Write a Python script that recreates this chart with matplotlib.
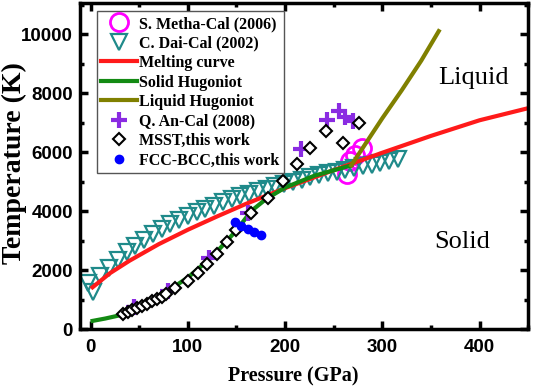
"""Temperature vs pressure: melting curve, Hugoniots and calculated points."""

import matplotlib
matplotlib.use('Agg')
import matplotlib.pyplot as plt
from matplotlib.ticker import MultipleLocator

# melting curve
melt_p = [2, 20, 40, 70, 100, 130, 160, 200, 250, 300, 350, 400, 450]
melt_t = [1420, 1900, 2320, 2880, 3370, 3820, 4250, 4780, 5390, 5980,
          6550, 7080, 7490]

# solid and liquid Hugoniot
solid_p = [2, 15, 30, 50, 75, 100, 125, 150, 165, 180, 200, 230, 268]
solid_t = [280, 360, 470, 750, 1200, 1750, 2450, 3350, 4000, 4400, 4800,
           5200, 5550]
liquid_p = [268, 285, 300, 320, 340, 358]
liquid_t = [5550, 6400, 7150, 8100, 9100, 10100]

# C. Dai-Cal (2002)
dai_p = [-3, 2, 10, 19, 28, 37, 46, 55, 64, 73, 82, 91, 100, 109, 118, 127,
         136, 145, 154, 163, 172, 181, 190, 199, 208, 217, 226, 235, 244, 253,
         262, 271, 280, 289, 298, 307, 316]
dai_t = [1550, 1250, 1800, 2080, 2350, 2600, 2820, 3020, 3210, 3390, 3550,
         3700, 3840, 3960, 4080, 4190, 4300, 4400, 4500, 4590, 4680, 4760,
         4840, 4920, 5000, 5070, 5140, 5210, 5280, 5340, 5400, 5460, 5520,
         5580, 5640, 5700, 5780]

# S. Metha-Cal (2006)
metha_p = [264, 267, 272, 279]
metha_t = [5250, 5700, 5900, 6150]

# Q. An-Cal (2008)
an_p = [45, 80, 122, 162, 216, 243, 255, 262, 270]
an_t = [750, 1300, 2400, 3950, 6100, 7100, 7400, 7200, 7050]

# MSST, this work
msst_p = [33, 38, 43, 48, 53, 58, 63, 68, 73, 78, 87, 100, 110, 120, 130,
          140, 150, 165, 182, 198, 212, 226, 242, 260, 276]
msst_t = [500, 570, 640, 720, 790, 860, 940, 1020, 1100, 1180, 1400, 1620,
          1900, 2200, 2550, 2950, 3350, 3950, 4440, 5020, 5590, 6140, 6710,
          6310, 6980]

# FCC-BCC, this work
fcc_p = [148, 155, 162, 168, 175]
fcc_t = [3620, 3500, 3380, 3290, 3200]

SERIF = 'Liberation Serif'
SANS = 'Liberation Sans'


def main():
    fig = plt.figure(figsize=(5.33, 3.9), dpi=100)
    ax = fig.add_axes([0.150, 0.156, 0.841, 0.836])

    ax.plot(metha_p, metha_t, 'o', ms=13, mfc='none', mec='#ff00ff', mew=2,
            ls='none', label='S. Metha-Cal (2006)')
    ax.plot(dai_p, dai_t, 'v', ms=11, mfc='none', mec='#1f8a8a', mew=1.6,
            ls='none', label='C. Dai-Cal (2002)')
    ax.plot(melt_p, melt_t, '-', color='#ff1a1a', lw=3, label='Melting curve')
    ax.plot(solid_p, solid_t, '-', color='#138a13', lw=3,
            label='Solid Hugoniot')
    ax.plot(liquid_p, liquid_t, '-', color='#808000', lw=3,
            label='Liquid Hugoniot')
    ax.plot(an_p, an_t, '+', ms=11, mec='#8a2be2', mew=3, ls='none',
            label='Q. An-Cal (2008)')
    ax.plot(msst_p, msst_t, 'D', ms=6, mfc='white', mec='black', mew=1.5,
            ls='none', label='MSST,this work')
    ax.plot(fcc_p, fcc_t, 'o', ms=6, color='#0000ff', ls='none',
            label='FCC-BCC,this work')

    ax.set_xlim(-11, 450)
    ax.set_ylim(0, 11050)
    ax.xaxis.set_major_locator(MultipleLocator(100))
    ax.xaxis.set_minor_locator(MultipleLocator(50))
    ax.yaxis.set_major_locator(MultipleLocator(2000))
    ax.yaxis.set_minor_locator(MultipleLocator(1000))
    ax.tick_params(which='both', direction='in', top=True, right=True,
                   width=2.5)
    ax.tick_params(which='major', length=6)
    ax.tick_params(which='minor', length=3)
    ax.tick_params(axis='x', pad=7)
    ax.tick_params(axis='y', pad=5)
    for spine in ax.spines.values():
        spine.set_linewidth(2.5)
    for lab in ax.get_xticklabels() + ax.get_yticklabels():
        lab.set_family(SANS)
        lab.set_fontweight('bold')
        lab.set_fontsize(13.5)

    ax.set_xlabel('Pressure (GPa)', family=SERIF, weight='bold',
                  fontsize=14.5)
    ax.set_ylabel('Temperature (K)', family=SERIF, weight='bold',
                  fontsize=20)
    ax.xaxis.set_label_coords(0.475, -0.115)
    ax.yaxis.set_label_coords(-0.118, 0.51)

    ax.text(394, 8500, 'Liquid', family=SERIF, fontsize=19,
            ha='center', va='center')
    ax.text(382, 2950, 'Solid', family=SERIF, fontsize=19,
            ha='center', va='center')

    leg = ax.legend(loc='upper left', bbox_to_anchor=(0.03, 0.985),
                    prop={'family': SERIF, 'weight': 'bold', 'size': 11.5},
                    fancybox=False, edgecolor='#555555', framealpha=1,
                    handlelength=2.2, handletextpad=0.15, labelspacing=0.22,
                    borderpad=0.3, borderaxespad=0.2)
    leg.get_frame().set_linewidth(1.0)

    fig.savefig('out.png', dpi=100)


if __name__ == '__main__':
    main()
